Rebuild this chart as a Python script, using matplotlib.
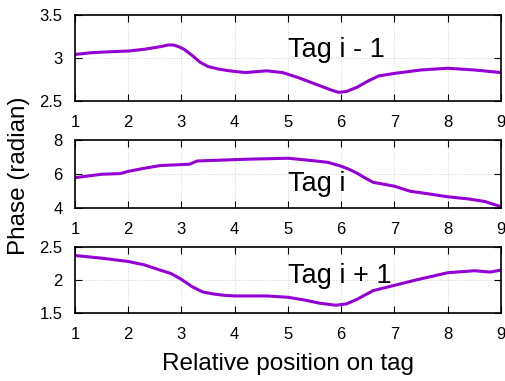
import matplotlib
matplotlib.use("Agg")
import matplotlib.pyplot as plt

plt.rcParams['font.family'] = ['Liberation Sans', 'DejaVu Sans']

# Tag i - 1
x_prev = [1.0, 1.3, 1.6, 2.0, 2.3, 2.6, 2.75, 2.85, 2.95, 3.05, 3.2, 3.35, 3.5, 3.7, 3.9, 4.2,
          4.6, 4.9, 5.2, 5.5, 5.8, 5.95, 6.1, 6.3, 6.5, 6.7, 7.0, 7.5, 8.0, 8.5, 9.0]
y_prev = [3.04, 3.06, 3.07, 3.08, 3.10, 3.13, 3.15, 3.15, 3.13, 3.10, 3.03, 2.95, 2.90, 2.87, 2.85, 2.83,
          2.85, 2.83, 2.77, 2.70, 2.63, 2.60, 2.61, 2.66, 2.73, 2.79, 2.82, 2.86, 2.88, 2.86, 2.83]

# Tag i
x_cur = [1.0, 1.5, 1.85, 2.0, 2.3, 2.6, 3.15, 3.3, 4.2, 5.0, 5.4, 5.75, 6.0, 6.15, 6.3, 6.45, 6.6,
         7.0, 7.3, 7.6, 8.0, 8.4, 8.7, 9.0]
y_cur = [5.78, 5.98, 6.02, 6.15, 6.33, 6.49, 6.57, 6.76, 6.86, 6.92, 6.80, 6.68, 6.45, 6.27, 6.04, 5.76, 5.51,
         5.28, 4.98, 4.85, 4.66, 4.53, 4.38, 4.08]

# Tag i + 1
x_next = [1.0, 1.5, 2.0, 2.3, 2.6, 2.8, 3.0, 3.2, 3.4, 3.6, 3.8, 4.0, 4.6, 5.0, 5.3, 5.6, 5.9,
          6.1, 6.3, 6.6, 7.0, 7.4, 8.0, 8.5, 8.8, 9.0]
y_next = [2.37, 2.33, 2.28, 2.23, 2.15, 2.10, 2.01, 1.90, 1.82, 1.79, 1.77, 1.76, 1.76, 1.74, 1.70, 1.65, 1.62,
          1.64, 1.71, 1.84, 1.92, 2.00, 2.11, 2.14, 2.12, 2.15]

panels = [
    (x_prev, y_prev, "Tag i - 1", (2.5, 3.5), [2.5, 3, 3.5], ["2.5", "3", "3.5"], 3.09),
    (x_cur, y_cur, "Tag i", (4, 8), [4, 6, 8], ["4", "6", "8"], 5.41),
    (x_next, y_next, "Tag i + 1", (1.5, 2.5), [1.5, 2, 2.5], ["1.5", "2", "2.5"], 2.065),
]
boxes = [(0.735, 0.961), (0.454, 0.633), (0.178, 0.352)]

fig = plt.figure(figsize=(5.06, 3.81), dpi=100)
for (xs, ys, label, ylim, yt, ytl, ty), (b, t) in zip(panels, boxes):
    ax = fig.add_axes([0.148, b, 0.842, t - b])
    ax.plot(xs, ys, color="#9400D3", lw=2.2, solid_joinstyle="round")
    ax.set_xlim(1, 9)
    ax.set_ylim(*ylim)
    ax.set_xticks(range(1, 10))
    ax.set_yticks(yt)
    ax.set_yticklabels(ytl)
    ax.tick_params(direction="in", top=True, right=True, length=5, labelsize=12)
    ax.tick_params(axis="x", pad=10)
    ax.tick_params(axis="y", pad=9)
    ax.grid(True, linestyle=":", color="#cccccc", lw=0.6)
    for s in ax.spines.values():
        s.set_linewidth(1.2)
    ax.text(5.0, ty, label, fontsize=19.5, ha="left", va="center")
    if label == "Tag i + 1":
        ax.set_xlabel("Relative position on tag", fontsize=17.5, labelpad=8)

fig.text(0.038, 0.54, "Phase (radian)", rotation=90, fontsize=17.5, ha="center", va="center")
fig.savefig("out.png", dpi=100)
